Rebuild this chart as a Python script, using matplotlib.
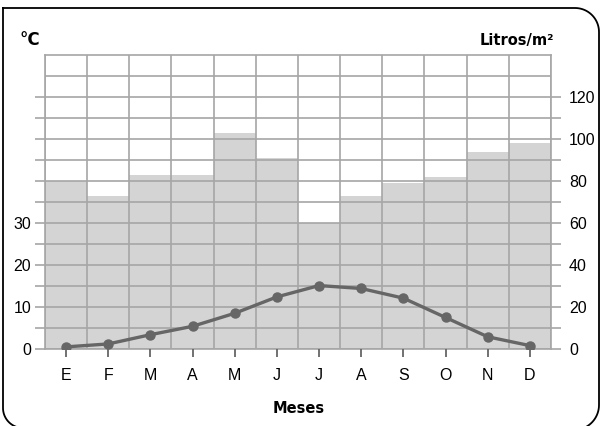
# Climograma: precipitación (barras) y temperatura (línea)
import numpy as np
import matplotlib.pyplot as plt
from matplotlib.ticker import FixedLocator

# Datos
meses = ['E', 'F', 'M', 'A', 'M', 'J', 'J', 'A', 'S', 'O', 'N', 'D']
precipitacion = [80, 73, 83, 83, 103, 91, 60, 73, 79, 82, 94, 98]
temperatura = [0.5, 1.2, 3.4, 5.4, 8.5, 12.4, 15.1, 14.4, 12.1, 7.5, 2.9, 0.8]

gris_rejilla = '#a6a6a6'
gris_barra = '#d4d4d4'
gris_linea = '#666666'

fig = plt.figure(figsize=(6, 4.26), dpi=100)
ax = fig.add_axes([0.075, 0.1808, 0.8433, 0.6902])

x = np.arange(len(meses))

# Barras de precipitación
ax.bar(x, precipitacion, width=1.0, color=gris_barra, zorder=1)
ax.set_xlim(-0.5, len(meses) - 0.5)
ax.set_ylim(0, 140)

# Eje izquierdo: temperatura (se crea antes para que no cambie los ticks del derecho)
ax2 = ax.twinx()

# Rejilla por encima de las barras
ax.set_axisbelow(False)
ax.xaxis.set_minor_locator(FixedLocator(np.arange(-0.5, len(meses), 1.0)))
ax.grid(axis='x', which='minor', color=gris_rejilla, linewidth=1.2)
ax.grid(axis='y', which='major', color=gris_rejilla, linewidth=1.2)
ax.axhline(130, color=gris_rejilla, linewidth=1.2, zorder=2.5)
ax.tick_params(which='minor', length=0)

# Eje derecho: litros/m2
ax.yaxis.tick_right()
niveles = list(range(0, 121, 10))
ax.set_yticks(niveles)
ax.set_yticklabels([str(v) if v % 20 == 0 else '' for v in niveles])
ax.tick_params(axis='y', which='major', direction='out', length=7, width=1.2,
               color=gris_rejilla, pad=6, labelsize=11.5, left=False, right=True,
               labelleft=False, labelright=True)

# Eje inferior: meses
ax.set_xticks(x)
ax.set_xticklabels(meses)
ax.tick_params(axis='x', which='major', direction='out', length=6, width=1.3,
               color=gris_linea, pad=8, labelsize=11.5)
for lab in ax.get_xticklabels() + ax.get_yticklabels():
    lab.set_fontfamily('Liberation Sans')
for s in ax.spines.values():
    s.set_color(gris_rejilla)
    s.set_linewidth(1.2)

# Línea de temperatura
ax2.yaxis.tick_left()
ax2.set_ylim(0, 70)
ax2.plot(x, temperatura, color=gris_linea, linewidth=2.4, marker='o',
         markersize=6.5, zorder=5)
ax2.set_yticks(np.arange(0, 61, 5))
ax2.set_yticklabels([str(v) if v in (0, 10, 20, 30) else '' for v in range(0, 61, 5)])
ax2.tick_params(axis='y', direction='out', length=7, width=1.2,
                color=gris_rejilla, pad=3, labelsize=11.5, left=True, right=False,
                labelleft=True, labelright=False)
for lab in ax2.get_yticklabels():
    lab.set_fontfamily('Liberation Sans')
for s in ax2.spines.values():
    s.set_visible(False)

# Títulos de los ejes
fig.text(0.05, 0.906, '°C', fontsize=12, fontweight='bold', ha='center', va='center')
fig.text(0.923, 0.906, 'Litros/m²', fontsize=10.5, fontweight='bold', ha='right', va='center')
fig.text(0.497, 0.042, 'Meses', fontsize=10.5, fontweight='bold', ha='center', va='center')

# Marco redondeado de la figura (en píxeles, origen arriba a la izquierda)
W, H = 600.0, 426.0
def arco(cx, cy, r, a0, a1):
    a = np.radians(np.linspace(a0, a1, 20))
    return list(cx + r * np.cos(a)), list(cy - r * np.sin(a))
px, py = [3, 575], [8, 8]
ax_, ay_ = arco(575, 32, 24, 90, 0); px += ax_; py += ay_
ax_, ay_ = arco(574, 405, 25, 0, -90); px += ax_; py += ay_
ax_, ay_ = arco(23, 408, 20, -90, -180); px += ax_; py += ay_
px += [3]; py += [8]
fig.add_artist(plt.Line2D(np.array(px) / W, 1 - np.array(py) / H,
                          transform=fig.transFigure, color='black', linewidth=1.3))

fig.savefig('out.png', dpi=100)
